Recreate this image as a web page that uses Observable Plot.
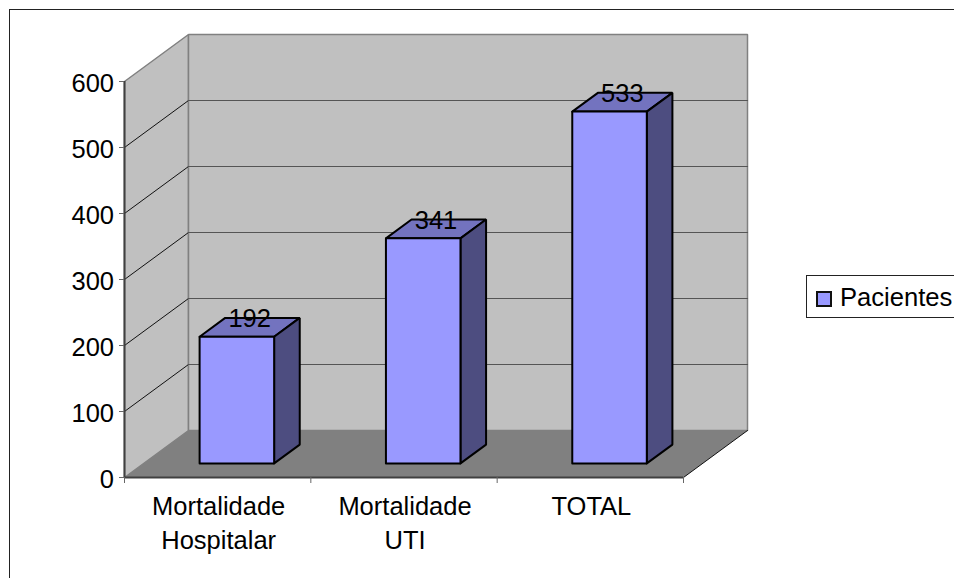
<!DOCTYPE html>
<html>
<head>
<meta charset="utf-8">
<script src="https://cdn.jsdelivr.net/npm/d3@7"></script>
<script src="https://cdn.jsdelivr.net/npm/@observablehq/plot@0.6"></script>
<style>
  html, body { margin: 0; padding: 0; background: #fff; overflow: hidden; }
  #chart { position: relative; width: 954px; height: 578px; overflow: hidden; font-family: "Liberation Sans", Arial, sans-serif; }
  #chart svg { position: absolute; left: 0; top: 0; }
  #frame { position: absolute; left: 9px; top: 9px; width: 960px; height: 600px; border-left: 1.5px solid #222; border-top: 1.5px solid #222; }
  #legend { position: absolute; left: 806px; top: 275px; width: 170px; height: 41px; border: 1px solid #222; background: #fff; font-size: 25.6px; line-height: 42px; color: #000; white-space: nowrap; }
  #legend i { position: absolute; left: 9px; top: 15px; width: 12px; height: 12px; background: #9999ff; border: 2px solid #111; }
  #legend span { position: absolute; left: 33px; top: 0; }
</style>
</head>
<body>
<div id="chart">
  <div id="frame"></div>
  <div id="legend"><i></i><span id="legendText"></span></div>
</div>
<script>
const categories = ["Mortalidade\nHospitalar", "Mortalidade\nUTI", "TOTAL"];
const pacientes = [192, 341, 533];
const seriesName = "Pacientes";
const yTicks = [0, 100, 200, 300, 400, 500, 600];
const gridValues = [100, 200, 300, 400, 500];
const xTicks = [0, 1, 2, 3];

// Oblique projection: one unit of depth shifts right along x and up along y
const depthX = 0.3435;
const depthY = 71.2;
const project = (x, y, d) => ({x: x + d * depthX, y: y + d * depthY});

// Bars take the middle of each category's width and depth
const barWidth = 0.4;
const barNear = 0.3;
const barFar = 0.7;

const quad = (id, corners) =>
  [...corners, corners[0]].map(([x, y, d]) => ({id, ...project(x, y, d)}));

const leftWall = quad("left", [[0, 0, 0], [0, 600, 0], [0, 600, 1], [0, 0, 1]]);
const backWall = quad("back", [[0, 0, 1], [0, 600, 1], [3, 600, 1], [3, 0, 1]]);
const floor = quad("floor", [[0, 0, 0], [3, 0, 0], [3, 0, 1], [0, 0, 1]]);

const frontFaces = [], sideFaces = [], topFaces = [];
pacientes.forEach((v, i) => {
  const x0 = i + 0.5 - barWidth / 2;
  const x1 = i + 0.5 + barWidth / 2;
  frontFaces.push(...quad(i, [[x0, 0, barNear], [x0, v, barNear], [x1, v, barNear], [x1, 0, barNear]]));
  sideFaces.push(...quad(i, [[x1, 0, barNear], [x1, v, barNear], [x1, v, barFar], [x1, 0, barFar]]));
  topFaces.push(...quad(i, [[x0, v, barNear], [x1, v, barNear], [x1, v, barFar], [x0, v, barFar]]));
});

const wallGrid = gridValues.flatMap((v) => [
  {id: v, ...project(0, v, 0)},
  {id: v, ...project(0, v, 1)}
]);
const backGrid = gridValues.flatMap((v) => [
  {id: v, ...project(0, v, 1)},
  {id: v, ...project(3, v, 1)}
]);
const floorEdge = [project(3, 0, 0), project(3, 0, 1)];

const polygon = (data, fill, stroke, strokeWidth) =>
  Plot.line(data, {x: "x", y: "y", z: "id", fill, stroke, strokeWidth, curve: "linear", strokeLinejoin: "miter"});

const chart = Plot.plot({
  width: 954,
  height: 578,
  marginLeft: 124,
  marginRight: 271,
  marginTop: 81,
  marginBottom: 101,
  style: {fontFamily: '"Liberation Sans", Arial, sans-serif', fontSize: "25.5px", color: "#000", background: "transparent", overflow: "visible"},
  x: {domain: [0, 3]},
  y: {domain: [0, 600]},
  marks: [
    polygon(leftWall, "#c0c0c0", "#808080", 1.5),
    polygon(backWall, "#c0c0c0", "#808080", 1.5),
    polygon(floor, "#808080", "none", 0),
    Plot.line(wallGrid, {x: "x", y: "y", z: "id", stroke: "#111", strokeWidth: 1}),
    Plot.line(backGrid, {x: "x", y: "y", z: "id", stroke: "#555", strokeWidth: 1.2}),
    Plot.line(floorEdge, {x: "x", y: "y", stroke: "#111", strokeWidth: 1}),
    polygon(topFaces, "#7373bf", "#000", 2),
    polygon(sideFaces, "#4d4d80", "#000", 2),
    polygon(frontFaces, "#9999ff", "#000", 2),
    Plot.text(pacientes, {
      x: (d, i) => project(i + 0.5, d, 0.5).x,
      y: (d, i) => project(i + 0.5, d, 0.5).y,
      text: (d) => String(d),
      dy: -8,
      fontSize: 25.5,
      fill: "#000"
    }),
    Plot.ruleX([0], {stroke: "#404040", strokeWidth: 2}),
    Plot.ruleY([0], {x1: 0, x2: 3, stroke: "#404040", strokeWidth: 2}),
    // Tick marks and tick labels are separate so the labels can sit lower than their ticks
    Plot.axisY({ticks: yTicks, tickSize: 5, label: null, stroke: "#666", text: null}),
    Plot.axisY({ticks: yTicks, tickSize: 0, tickPadding: 10.5, dy: 2, label: null, fontSize: 25.5, fill: "#000", textStroke: "none"}),
    Plot.axisX({ticks: xTicks, tickSize: 6, tickFormat: () => "", label: null, stroke: "#666"}),
    Plot.text(categories, {
      x: (d, i) => i + 0.5,
      y: () => 0,
      text: (d) => d,
      dx: 1,
      dy: 13,
      lineAnchor: "top",
      lineHeight: 1.35,
      textAnchor: "middle",
      fontSize: 25.5,
      fill: "#000"
    })
  ]
});

document.getElementById("chart").prepend(chart);
document.getElementById("legendText").textContent = seriesName;
</script>
</body>
</html>
